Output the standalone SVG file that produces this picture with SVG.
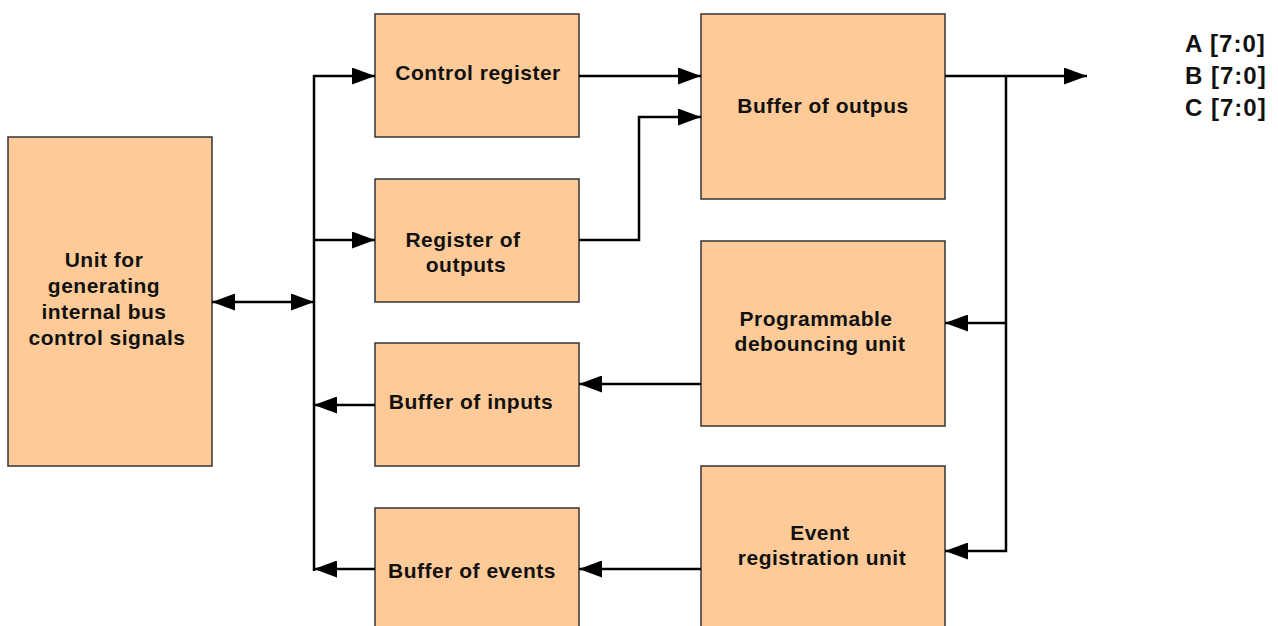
<svg xmlns="http://www.w3.org/2000/svg" width="1278" height="626" viewBox="0 0 1278 626">
  <style>
    .box { fill: #FECB98; stroke: #333333; stroke-width: 1.5; }
    .lbl { font-family: "Liberation Sans", Arial, sans-serif; font-weight: bold; font-size: 21px; letter-spacing: 0.5px; fill: #111111; text-anchor: middle; }
    .bus { font-family: "Liberation Sans", Arial, sans-serif; font-weight: bold; font-size: 24px; letter-spacing: 1px; fill: #111111; }
    .wire { fill: none; stroke: #000000; stroke-width: 2.5; marker-end: url(#arrow); }
  </style>
  <defs>
    <marker id="arrow" viewBox="0 0 23 17" refX="23" refY="8.5" markerWidth="23" markerHeight="17" markerUnits="userSpaceOnUse" orient="auto-start-reverse">
      <path d="M0,0 L23,8.5 L0,17 Z" fill="#000000"/>
    </marker>
  </defs>
  <rect width="1278" height="626" fill="#ffffff"/>

  <g id="bus-control-unit">
    <rect class="box" x="8" y="137" width="204" height="329"/>
    <text class="lbl" x="104" y="267">Unit for</text>
    <text class="lbl" x="104" y="293">generating</text>
    <text class="lbl" x="104" y="319">internal bus</text>
    <text class="lbl" x="107" y="345">control signals</text>
  </g>

  <g id="control-register">
    <rect class="box" x="375" y="14" width="204" height="123"/>
    <text class="lbl" x="478" y="80">Control register</text>
  </g>

  <g id="register-of-outputs">
    <rect class="box" x="375" y="179" width="204" height="123"/>
    <text class="lbl" x="463" y="247">Register of</text>
    <text class="lbl" x="466" y="272">outputs</text>
  </g>

  <g id="buffer-of-inputs">
    <rect class="box" x="375" y="343" width="204" height="123"/>
    <text class="lbl" x="471" y="409">Buffer of inputs</text>
  </g>

  <g id="buffer-of-events">
    <rect class="box" x="375" y="508" width="204" height="130"/>
    <text class="lbl" x="472" y="578">Buffer of events</text>
  </g>

  <g id="buffer-of-outputs">
    <rect class="box" x="701" y="14" width="244" height="185"/>
    <text class="lbl" x="823" y="113">Buffer of outpus</text>
  </g>

  <g id="debouncing-unit">
    <rect class="box" x="701" y="241" width="244" height="185"/>
    <text class="lbl" x="816" y="326">Programmable</text>
    <text class="lbl" x="820" y="351">debouncing unit</text>
  </g>

  <g id="event-registration-unit">
    <rect class="box" x="701" y="466" width="244" height="175"/>
    <text class="lbl" x="820" y="540">Event</text>
    <text class="lbl" x="822" y="565">registration unit</text>
  </g>

  <g id="port-labels">
    <text class="bus" x="1185" y="52">A [7:0]</text>
    <text class="bus" x="1185" y="84">B [7:0]</text>
    <text class="bus" x="1185" y="116">C [7:0]</text>
  </g>

  <g id="connectors">
    <!-- internal bus -->
    <path class="wire" d="M212,302 H314" marker-start="url(#arrow)"/>
    <path class="wire" d="M314,571 V76 H375"/>
    <path class="wire" d="M314,240 H375"/>
    <path class="wire" d="M375,405 H314"/>
    <path class="wire" d="M375,569 H314"/>
    <!-- output path -->
    <path class="wire" d="M579,76 H701"/>
    <path class="wire" d="M579,240 H639 V117 H701"/>
    <path class="wire" d="M945,76 H1087"/>
    <!-- feedback from port lines -->
    <path class="wire" d="M1006,76 V551 H945"/>
    <path class="wire" d="M1006,323 H945"/>
    <!-- input path -->
    <path class="wire" d="M701,384 H579"/>
    <path class="wire" d="M701,569 H579"/>
  </g>
</svg>
